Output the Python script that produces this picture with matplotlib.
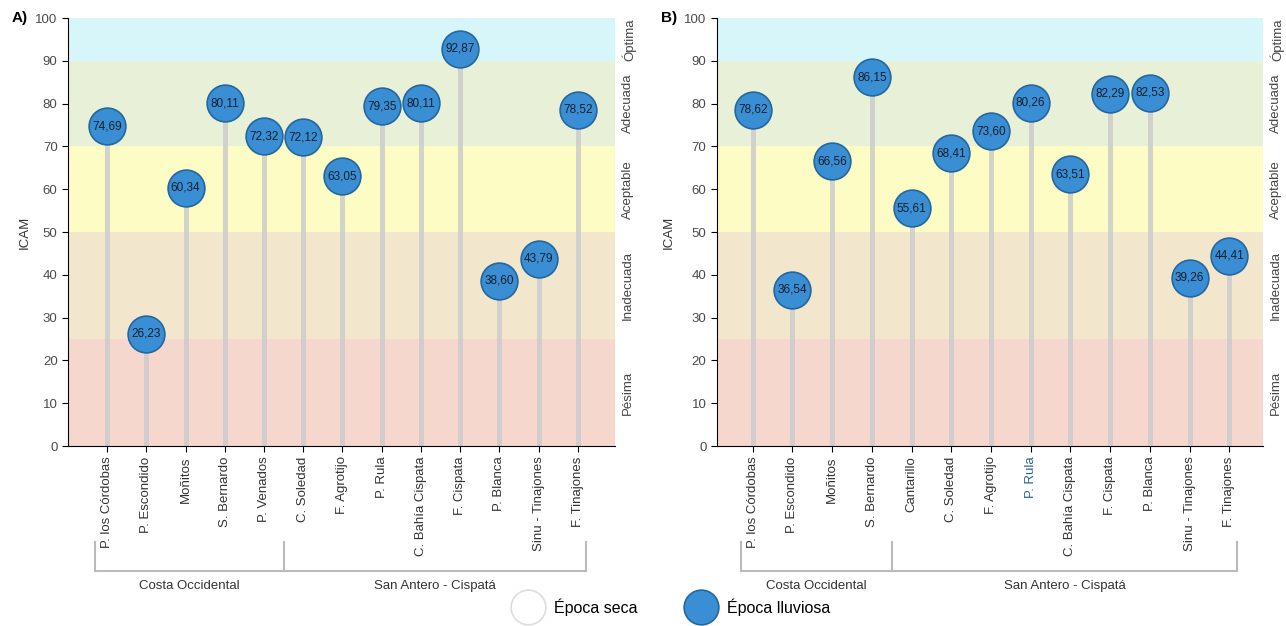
import numpy as np
import matplotlib.pyplot as plt
from matplotlib.lines import Line2D
import matplotlib.transforms as mtransforms

plt.rcParams['font.family'] = ['Liberation Sans', 'DejaVu Sans']

# Datos ICAM - panel A
labels_a = ['P. los Córdobas', 'P. Escondido', 'Moñitos', 'S. Bernardo', 'P. Venados',
            'C. Soledad', 'F. Agrotijo', 'P. Rula', 'C. Bahía Cispata', 'F. Cispata',
            'P. Blanca', 'Sinu - Tinajones', 'F. Tinajones']
lluviosa_a = [74.69, 26.23, 60.34, 80.11, 72.32, 72.12, 63.05, 79.35, 80.11, 92.87, 38.60, 43.79, 78.52]
n_costa_a = 5

# Datos ICAM - panel B
labels_b = ['P. los Córdobas', 'P. Escondido', 'Moñitos', 'S. Bernardo', 'Cantarillo',
            'C. Soledad', 'F. Agrotijo', 'P. Rula', 'C. Bahía Cispata', 'F. Cispata',
            'P. Blanca', 'Sinu - Tinajones', 'F. Tinajones']
lluviosa_b = [78.62, 36.54, 66.56, 86.15, 55.61, 68.41, 73.60, 80.26, 63.51, 82.29, 82.53, 39.26, 44.41]
n_costa_b = 4

# Rangos de calidad
bandas = [(0, 25, 'Pésima', '#f6d7cd'),
          (25, 50, 'Inadecuada', '#f2e7cd'),
          (50, 70, 'Aceptable', '#fefcc5'),
          (70, 90, 'Adecuada', '#e8f1d8'),
          (90, 100, 'Óptima', '#d7f6f9')]

azul = '#3a8fd4'
borde = '#24679e'

fig = plt.figure(figsize=(12.86, 6.26), dpi=100)
ax_a = fig.add_axes([0.0529, 0.2875, 0.4253, 0.6837])
ax_b = fig.add_axes([0.5575, 0.2875, 0.4246, 0.6837])


def dibujar(ax, labels, vals, n_costa, xlim, letra, ylab_x):
    x = np.arange(len(labels))
    for y0, y1, nombre, col in bandas:
        ax.axhspan(y0, y1, color=col, lw=0, zorder=0)
        ax.text(1.012, (y0 + y1) / 2 / 100, nombre, transform=ax.transAxes, rotation=90,
                ha='left', va='center', fontsize=9.5, color='#444444')
    ax.vlines(x, 0, vals, color='#cccccc', lw=3.6, alpha=0.85, zorder=2)
    ax.scatter(x, vals, s=700, color=azul, edgecolor=borde, lw=1.2, zorder=3)
    for xi, v in zip(x, vals):
        ax.text(xi, v, f'{v:.2f}'.replace('.', ','), ha='center', va='center',
                fontsize=8.5, color='#15202e', zorder=4)
    ax.set_xlim(*xlim)
    ax.set_ylim(0, 100)
    ax.set_yticks(range(0, 101, 10))
    ax.tick_params(axis='y', labelsize=9.5, labelcolor='#4a4a4a', length=4, width=0.8)
    ax.set_xticks(list(x))
    ax.set_xticklabels(labels, rotation=90, fontsize=9.5, color='#333333')
    ax.tick_params(axis='x', length=4, width=0.8)
    for s in ['top', 'right']:
        ax.spines[s].set_visible(False)
    ax.set_ylabel('ICAM', fontsize=9.5, color='#333333')
    ax.yaxis.set_label_coords(ylab_x, 0.5)
    ax.text(-0.073, 1.0, letra, transform=ax.transAxes, fontsize=11, fontweight='bold',
            ha='right', va='center')
    # corchetes de grupos
    tr = mtransforms.blended_transform_factory(ax.transData, ax.transAxes)
    x_ini = -0.3
    x_sep = n_costa - 0.5
    x_fin = len(labels) - 0.8
    yb, yt = -0.292, -0.225
    ax.plot([x_ini, x_fin], [yb, yb], transform=tr, color='#bbbbbb', lw=1.5, clip_on=False)
    for xv in [x_ini, x_sep, x_fin]:
        ax.plot([xv, xv], [yb, yt], transform=tr, color='#bbbbbb', lw=1.5, clip_on=False)
    ax.text((x_ini + x_sep) / 2, -0.328, 'Costa Occidental', transform=tr, ha='center',
            va='center', fontsize=9.5, color='#333333')
    ax.text((x_sep + x_fin) / 2, -0.328, 'San Antero - Cispatá', transform=tr, ha='center',
            va='center', fontsize=9.5, color='#333333')


dibujar(ax_a, labels_a, lluviosa_a, n_costa_a, (-1, 12.95), 'A)', -0.068)
dibujar(ax_b, labels_b, lluviosa_b, n_costa_b, (-0.9, 12.85), 'B)', -0.078)
ax_b.get_xticklabels()[7].set_color('#2a5fa0')

handles = [Line2D([], [], marker='o', ls='', markersize=25, markerfacecolor='white',
                  markeredgecolor='#dddddd', markeredgewidth=1.2, label='Época seca'),
           Line2D([], [], marker='o', ls='', markersize=25, markerfacecolor=azul,
                  markeredgecolor=borde, markeredgewidth=1.2, label='Época lluviosa')]
fig.legend(handles=handles, loc='center', bbox_to_anchor=(0.522, 0.03), ncol=2,
           frameon=False, fontsize=11.5, handletextpad=0.6, columnspacing=3)

fig.savefig('out.png', dpi=100)
